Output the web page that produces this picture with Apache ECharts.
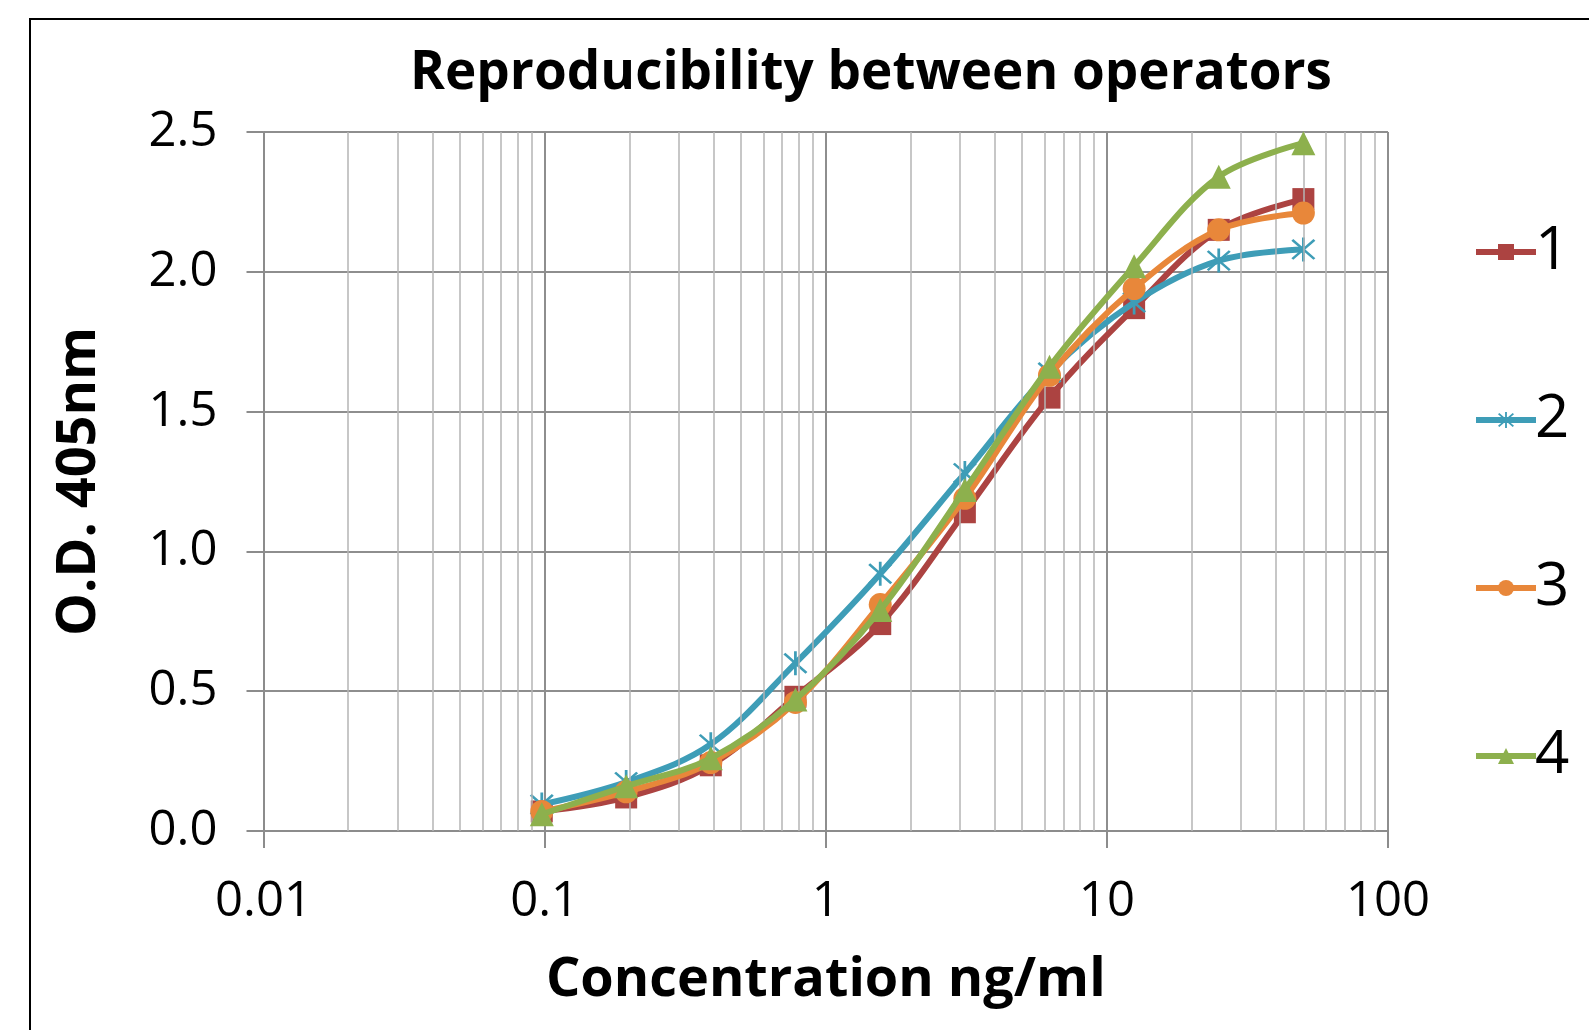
<!DOCTYPE html>
<html>
<head>
<meta charset="utf-8">
<style>
html,body{margin:0;padding:0;background:#fff;overflow:hidden;}
#frame{position:absolute;left:29px;top:18px;width:1700px;height:1200px;border:2px solid #000;box-sizing:border-box;}
#main{position:absolute;left:0;top:0;width:1589px;height:1030px;}
</style>
<script src="https://cdn.jsdelivr.net/npm/echarts@6/dist/echarts.min.js"></script>
</head>
<body>
<div id="frame"></div>
<div id="main"></div>
<script>
const concentrations = [0.0977, 0.195, 0.39, 0.78, 1.5625, 3.125, 6.25, 12.5, 25, 50];
const operator1 = [0.07, 0.12, 0.235, 0.48, 0.74, 1.14, 1.55, 1.87, 2.15, 2.26];
const operator2 = [0.095, 0.175, 0.31, 0.60, 0.92, 1.28, 1.64, 1.89, 2.04, 2.08];
const operator3 = [0.07, 0.14, 0.245, 0.46, 0.81, 1.19, 1.63, 1.94, 2.15, 2.21];
const operator4 = [0.06, 0.16, 0.26, 0.47, 0.79, 1.22, 1.66, 2.02, 2.34, 2.46];
const seriesNames = ['1', '2', '3', '4'];
const xTickLabels = ['0.01', '0.1', '1', '10', '100'];
const yTickLabels = ['0.0', '0.5', '1.0', '1.5', '2.0', '2.5'];
const minorGridValues = [0.02,0.03,0.04,0.05,0.06,0.07,0.08,0.09,
  0.2,0.3,0.4,0.5,0.6,0.7,0.8,0.9, 2,3,4,5,6,7,8,9, 20,30,40,50,60,70,80,90];

const colors = ['#AC4341', '#3E9DB7', '#E8873A', '#8DB04D'];
const asterisk = 'path://M-1,-10L1,-10L1,10L-1,10Z M-7.3,-8.7L8.7,7.3L7.3,8.7L-8.7,-7.3Z M8.7,-7.3L-7.3,8.7L-8.7,7.3L7.3,-8.7Z';
const symbols = ['rect', asterisk, 'circle', 'triangle'];
const symbolSizes = [22, 24, 23, 24];
const allData = [operator1, operator2, operator3, operator4];

const chart = echarts.init(document.getElementById('main'));
const font = '"Open Sans", "DejaVu Sans", sans-serif';

const series = allData.map((vals, i) => ({
  name: seriesNames[i],
  type: 'line',
  smooth: 0.35,
  data: concentrations.map((c, j) => [c, vals[j]]),
  symbol: symbols[i],
  symbolSize: symbolSizes[i],
  showAllSymbol: true,
  lineStyle: { color: colors[i], width: 6 },
  itemStyle: { color: colors[i] },
  z: 3 + i
}));

series.push({
  name: 'minorGrid',
  type: 'line',
  data: [],
  silent: true,
  markLine: {
    silent: true,
    symbol: 'none',
    animation: false,
    label: { show: false },
    lineStyle: { color: '#B4B4B4', width: 1.5, type: 'solid' },
    data: minorGridValues.map(v => ({ xAxis: v }))
  },
  z: 1
});

chart.setOption({
  animation: false,
  backgroundColor: 'transparent',
  title: {
    text: 'Reproducibility between operators',
    left: 866,
    textAlign: 'center',
    top: 42,
    textStyle: { fontFamily: font, fontWeight: 'bold', fontSize: 53, color: '#000' }
  },
  legend: {
    data: seriesNames,
    orient: 'vertical',
    left: 1468,
    top: 217,
    itemWidth: 60,
    itemHeight: 20,
    itemGap: 108,
    lineStyle: { width: 6 },
    textStyle: { fontFamily: font, fontSize: 60, color: '#000', padding: [0,0,0,-6] }
  },
  grid: { left: 263.5, right: 201, top: 132, bottom: 199, containLabel: false },
  xAxis: {
    type: 'log',
    logBase: 10,
    min: 0.01,
    max: 100,
    name: 'Concentration ng/ml',
    nameLocation: 'middle',
    nameGap: 123,
    nameTextStyle: { fontFamily: font, fontWeight: 'bold', fontSize: 54, color: '#000' },
    axisLine: { show: true, lineStyle: { color: '#8C8C8C', width: 2 } },
    axisTick: { show: true, length: 17, inside: false, lineStyle: { color: '#8C8C8C', width: 2 } },
    axisLabel: {
      fontFamily: font, fontSize: 49, color: '#000', margin: 47,
      formatter: function (v) {
        const k = Math.round(Math.log10(v)) + 2;
        return xTickLabels[k] !== undefined ? xTickLabels[k] : '';
      }
    },
    splitLine: { show: true, lineStyle: { color: '#8E8E8E', width: 2 } }
  },
  yAxis: {
    type: 'value',
    min: 0,
    max: 2.5,
    interval: 0.5,
    name: 'O.D. 405nm',
    nameLocation: 'middle',
    nameGap: 157,
    nameTextStyle: { fontFamily: font, fontWeight: 'bold', fontSize: 54, color: '#000' },
    axisLine: { show: true, lineStyle: { color: '#8C8C8C', width: 2 } },
    axisTick: { show: true, length: 17, inside: false, lineStyle: { color: '#8C8C8C', width: 2 } },
    axisLabel: {
      fontFamily: font, fontSize: 49, color: '#000', margin: 46,
      formatter: function (v) {
        const k = Math.round(v / 0.5);
        return yTickLabels[k] !== undefined ? yTickLabels[k] : '';
      }
    },
    splitLine: { show: true, lineStyle: { color: '#8E8E8E', width: 2 } }
  },
  series: series
});
</script>
</body>
</html>
